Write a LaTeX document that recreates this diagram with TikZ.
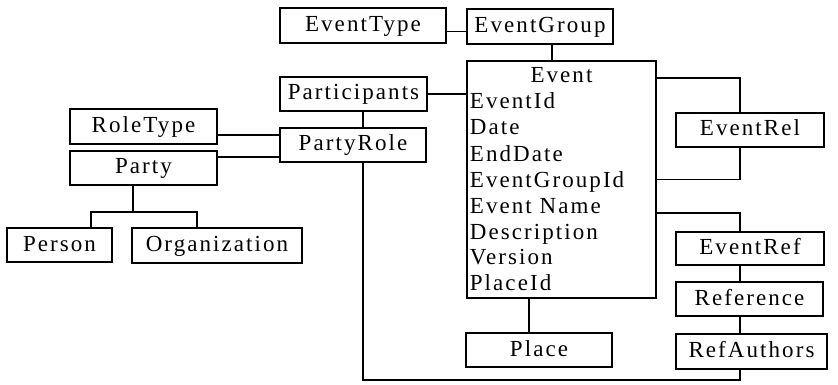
\documentclass[tikz,border=0pt]{standalone}
\usepackage{fontspec}
\setmainfont{Liberation Serif}[LetterSpace=9]
\begin{document}
\begin{tikzpicture}[x=1pt,y=-1pt,
  line width=1.8pt,
  box/.style={draw,inner sep=0pt,text height=16pt,text depth=4pt,font=\fontsize{23}{26}\selectfont},
  attr/.style={anchor=base west,inner sep=0pt,font=\fontsize{23}{26}\selectfont},
  conn/.style={line width=1.8pt}]
\useasboundingbox (0,0) rectangle (838,385);
% boxes
\node[box,minimum width=166pt,minimum height=35pt] (et) at (363,25.5) {EventType};
\node[box,minimum width=146pt,minimum height=35pt] (eg) at (540,26.5) {EventGroup};
\node[box,minimum width=147pt,minimum height=34pt] (pa) at (353.5,94) {Participants};
\node[box,minimum width=146pt,minimum height=34pt] (pr) at (353,145) {PartyRole};
\node[box,minimum width=147pt,minimum height=35pt] (rt) at (143.5,126.5) {RoleType};
\node[box,minimum width=147pt,minimum height=34pt] (py) at (143.5,168) {Party};
\node[box,minimum width=105pt,minimum height=34pt] (pe) at (59.5,245) {Person};
\node[box,minimum width=170pt,minimum height=35pt] (og) at (217,245.5) {Organization};
\node[draw,inner sep=0pt,minimum width=189pt,minimum height=237pt] (ev) at (561.5,179.5) {};
\node[box,minimum width=148pt,minimum height=34pt] (er) at (750,130) {EventRel};
\node[box,minimum width=148pt,minimum height=33pt] (ef) at (750,248.5) {EventRef};
\node[box,minimum width=147pt,minimum height=34pt] (rf) at (749.5,299) {Reference};
\node[box,minimum width=151pt,minimum height=35pt] (ra) at (751.5,351.5) {RefAuthors};
\node[box,minimum width=146pt,minimum height=34pt] (pl) at (539,350) {Place};
% Event texts
\node[attr,anchor=base] (t0) at (561.5,83) {Event};
\node[attr] (t1) at (469,109) {EventId};
\node[attr] (t2) at (469,135) {Date};
\node[attr] (t3) at (469,161) {EndDate};
\node[attr] (t4) at (469,187) {EventGroupId};
\node[attr] (t5) at (469,213) {Event Name};
\node[attr] (t6) at (469,239) {Description};
\node[attr] (t7) at (469,264) {Version};
\node[attr] (t8) at (469,290) {PlaceId};
% connectors
\draw[conn] ([yshift=-6pt]et.east) -- ([yshift=-6pt]et.east -| eg.west);
\draw[conn] ([xshift=12pt]eg.south) -- ([xshift=12pt]eg.south |- ev.north);
\draw[conn] (pa.east) -- (pa.east -| ev.west);
\draw[conn] ([xshift=9.5pt]pa.south) -- ([xshift=9.5pt]pa.south |- pr.north);
\draw[conn] ([yshift=-8.5pt]rt.east) -- ([yshift=-8.5pt]rt.east -| pr.west);
\draw[conn] ([yshift=11pt]py.east) -- ([yshift=11pt]py.east -| pr.west);
\coordinate (pj) at (133,212);
\draw[conn] ([xshift=-10.5pt]py.south) -- (pj);
\coordinate (peT) at ([xshift=31.5pt]pe.north);
\coordinate (ogT) at ([xshift=-20pt]og.north);
\draw[conn] (peT) |- (pj) -| (ogT);
\coordinate (raS) at ([xshift=-11.5pt]ra.south);
\coordinate (bl) at (363,380);
\draw[conn] ([xshift=10pt]pr.south) -- (bl) -| (raS);
\coordinate (erT) at ([xshift=-10pt]er.north);
\coordinate (erB) at ([xshift=-10pt]er.south);
\draw[conn] ([yshift=-18pt]ev.north east) -| (erT);
\draw[conn] (erB) |- (ev.east);
\coordinate (efT) at ([xshift=-10pt]ef.north);
\draw[conn] ([yshift=-33.5pt]ev.east) -| (efT);
\draw[conn] ([xshift=-10pt]ef.south) -- ([xshift=-10pt]ef.south |- rf.north);
\draw[conn] ([xshift=-10pt]ef.south |- rf.south) -- ([xshift=-10pt]ef.south |- ra.north);
\draw[conn] ([xshift=-10pt]pl.north) -- ([xshift=-10pt]pl.north |- ev.south);
\end{tikzpicture}
\end{document}
